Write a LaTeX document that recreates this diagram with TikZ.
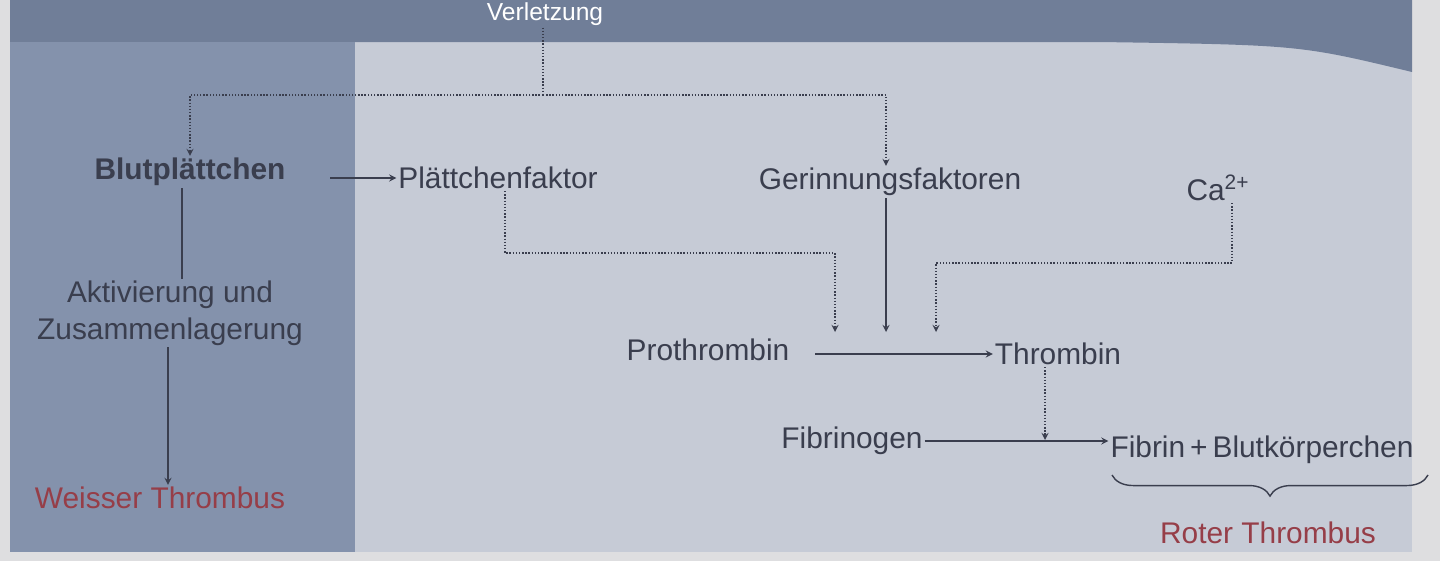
\documentclass[tikz,border=0pt]{standalone}
\usepackage{fontspec}
\setmainfont{Liberation Sans}
\usetikzlibrary{decorations.pathreplacing}
\definecolor{margin}{RGB}{222,222,224}
\definecolor{band}{RGB}{112,126,152}
\definecolor{light}{RGB}{198,203,214}
\definecolor{leftcol}{RGB}{132,146,172}
\definecolor{ink}{RGB}{58,62,78}
\definecolor{redink}{RGB}{150,62,72}
\tikzstyle{arrow} = [thick,->,>=stealth]
\tikzstyle{dots} = [thick,densely dotted]
\tikzstyle{lbl} = [text=ink,font=\fontsize{17}{21}\selectfont,inner sep=1pt]

\begin{document}
\begin{tikzpicture}[x=0.02cm,y=-0.02cm]

\useasboundingbox (0,0) rectangle (1440,561);
\fill[margin] (0,0) rectangle (1440,561);
\fill[light] (10,0) rectangle (1412,552);
\fill[band] (10,0) -- (1412,0) -- (1412,72) .. controls (1300,45) .. (1100,42) -- (10,42) -- cycle;
\fill[leftcol] (10,42) rectangle (355,552);

\node (verl) [lbl,text=white,font=\fontsize{14}{17}\selectfont] at (545,14) {Verletzung};
\node (blut) [lbl,font=\fontsize{17}{21}\selectfont\bfseries] at (190,172) {Blutplättchen};
\node (pfak) [lbl] at (498,178) {Plättchenfaktor};
\node (gfak) [lbl] at (890,182) {Gerinnungsfaktoren};
\node (ca) [lbl] at (1218,188) {Ca\textsuperscript{2+}};
\node (akt) [lbl,align=center] at (170,313) {Aktivierung und\\Zusammenlagerung};
\node (weiss) [lbl,text=redink] at (160,498) {Weisser Thrombus};
\node (proth) [lbl] at (708,350) {Prothrombin};
\node (thromb) [lbl] at (1058,354) {Thrombin};
\node (fibgen) [lbl] at (852,441) {Fibrinogen};
\node (fibrin) [lbl] at (1262,450) {Fibrin\,+\,Blutkörperchen};
\node (rot) [lbl,text=redink] at (1268,533) {Roter Thrombus};

\coordinate (top) at (543,95);
\coordinate (pf) at (835,332);
\coordinate (gf) at (886,332);
\coordinate (cc) at (936,332);
\coordinate (fj) at (1045,440);
\coordinate (lx) at (182,0);
\coordinate (wx) at (168,0);
\coordinate (px) at (505,0);
\coordinate (cx) at (1232,0);
\coordinate (bx) at (330,0);
\coordinate (tx) at (815,0);

\draw [dots,ink] (verl.south -| top) -- (top);
\draw [dots,ink,->,>=stealth] (top) -| (blut.north);
\draw [dots,ink,->,>=stealth] (top) -| (gfak.north -| gf);
\draw [arrow,ink] (pfak.west -| bx) -- (pfak.west);
\draw [thick,ink] (blut.south -| lx) -- (akt.north -| lx);
\draw [arrow,ink] (akt.south -| wx) -- (weiss.north -| wx);
\draw [dots,ink,->,>=stealth] (pfak.south -| px) |- (835,253) -- (pf);
\draw [thick,ink,->,>=stealth] (gfak.south -| gf) -- (gf);
\draw [dots,ink,->,>=stealth] (ca.south -| cx) |- (936,263) -- (cc);
\draw [arrow,ink] (thromb.west -| tx) -- (thromb.west);
\draw [dots,ink,->,>=stealth] (thromb.south -| fj) -- (fj);
\draw [arrow,ink] (fibgen.east) -- (fibrin.west |- fibgen.east);
\draw [thick,ink,decorate,decoration={brace,mirror,amplitude=12pt}] (1112,475) -- (1428,475);

\end{tikzpicture}
\end{document}
